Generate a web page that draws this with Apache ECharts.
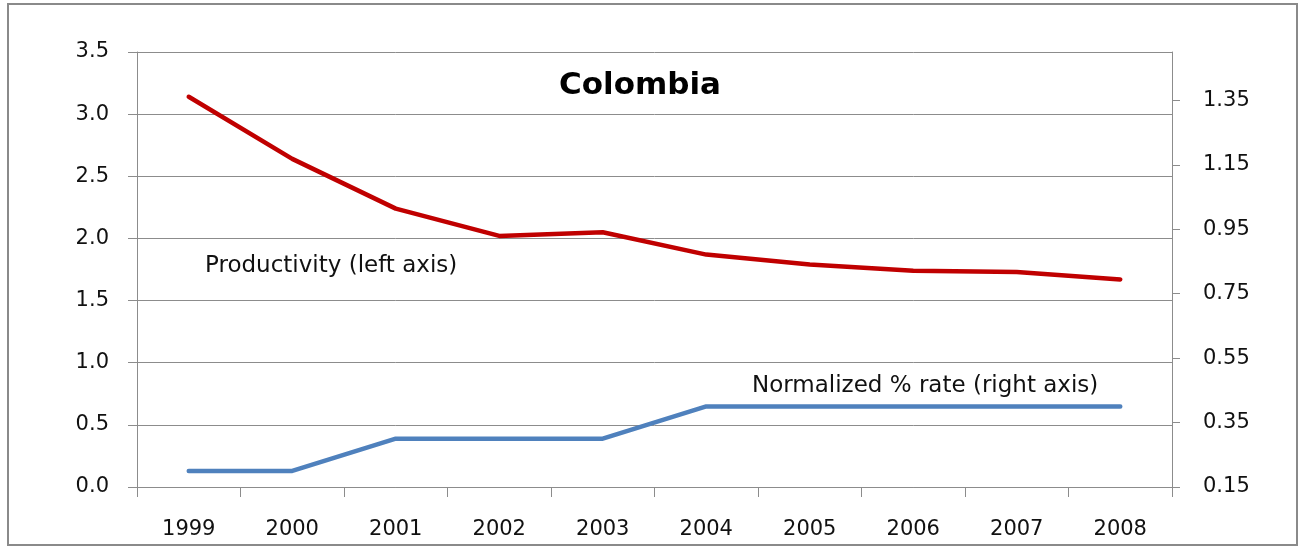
<!DOCTYPE html>
<html>
<head>
<meta charset="utf-8">
<title>Colombia</title>
<script src="https://cdn.jsdelivr.net/npm/echarts@6/dist/echarts.min.js"></script>
<style>
  html, body { margin: 0; padding: 0; background: #ffffff; }
  #chart { width: 1303px; height: 548px; }
</style>
</head>
<body>
<div id="chart"></div>
<script>
// Years on the category axis
const years = ['1999', '2000', '2001', '2002', '2003', '2004', '2005', '2006', '2007', '2008'];
// Productivity, plotted against the left axis
const productivity = [3.14, 2.64, 2.24, 2.02, 2.05, 1.87, 1.79, 1.74, 1.73, 1.67];
// Normalized % rate, plotted against the right axis
const normalizedRate = [0.20, 0.20, 0.30, 0.30, 0.30, 0.40, 0.40, 0.40, 0.40, 0.40];
// Right axis tick values
const rightTicks = [0.15, 0.35, 0.55, 0.75, 0.95, 1.15, 1.35];

const FONT = 'DejaVu Sans';
const AXIS_GREY = '#8c8c8c';
const chart = echarts.init(document.getElementById('chart'), null, { renderer: 'canvas' });

chart.setOption({
  backgroundColor: '#ffffff',
  animation: false,
  grid: { left: 137, right: 131, top: 52, bottom: 61, containLabel: false },
  xAxis: {
    type: 'category',
    data: years,
    boundaryGap: true,
    axisLine: { show: true, lineStyle: { color: AXIS_GREY, width: 1 } },
    axisTick: { show: true, length: 10, interval: 0, lineStyle: { color: AXIS_GREY } },
    axisLabel: { interval: 0, margin: 32, color: '#111', fontFamily: FONT, fontSize: 21 },
    splitLine: { show: false }
  },
  yAxis: [
    {
      type: 'value',
      position: 'left',
      min: 0,
      max: 3.5,
      interval: 0.5,
      axisLine: { show: true, lineStyle: { color: AXIS_GREY, width: 1 } },
      axisTick: { show: true, length: 9, lineStyle: { color: AXIS_GREY } },
      axisLabel: {
        margin: 28, color: '#111', fontFamily: FONT, fontSize: 21,
        formatter: v => v.toFixed(1)
      },
      splitLine: { show: true, lineStyle: { color: AXIS_GREY, width: 1 } }
    },
    {
      type: 'value',
      position: 'right',
      min: 0.15,
      max: 1.5,
      axisLine: { show: true, lineStyle: { color: AXIS_GREY, width: 1 } },
      axisTick: { show: true, length: 8, customValues: rightTicks, lineStyle: { color: AXIS_GREY } },
      axisLabel: {
        margin: 31, color: '#111', fontFamily: FONT, fontSize: 21,
        customValues: rightTicks,
        formatter: v => v.toFixed(2)
      },
      splitLine: { show: false }
    }
  ],
  series: [
    {
      name: 'Productivity (left axis)',
      type: 'line',
      yAxisIndex: 0,
      data: productivity,
      symbol: 'none',
      lineStyle: { color: '#c00000', width: 4.5, cap: 'round', join: 'round' }
    },
    {
      name: 'Normalized % rate (right axis)',
      type: 'line',
      yAxisIndex: 1,
      data: normalizedRate,
      symbol: 'none',
      lineStyle: { color: '#4f81bd', width: 4.5, cap: 'round', join: 'round' }
    }
  ],
  graphic: [
    {
      type: 'rect',
      shape: { x: 8, y: 4, width: 1289, height: 541 },
      style: { fill: 'none', stroke: '#8a8a8a', lineWidth: 2 },
      silent: true
    },
    {
      type: 'text',
      x: 640, y: 86,
      style: {
        text: 'Colombia', fill: '#000', fontFamily: FONT, fontWeight: 'bold', fontSize: 31,
        align: 'center', verticalAlign: 'middle'
      }
    },
    {
      type: 'text',
      x: 205, y: 266,
      style: {
        text: 'Productivity (left axis)', fill: '#111', fontFamily: FONT, fontSize: 23,
        align: 'left', verticalAlign: 'middle'
      }
    },
    {
      type: 'text',
      x: 752, y: 386,
      style: {
        text: 'Normalized % rate (right axis)', fill: '#111', fontFamily: FONT, fontSize: 23,
        align: 'left', verticalAlign: 'middle'
      }
    }
  ]
});
</script>
</body>
</html>
